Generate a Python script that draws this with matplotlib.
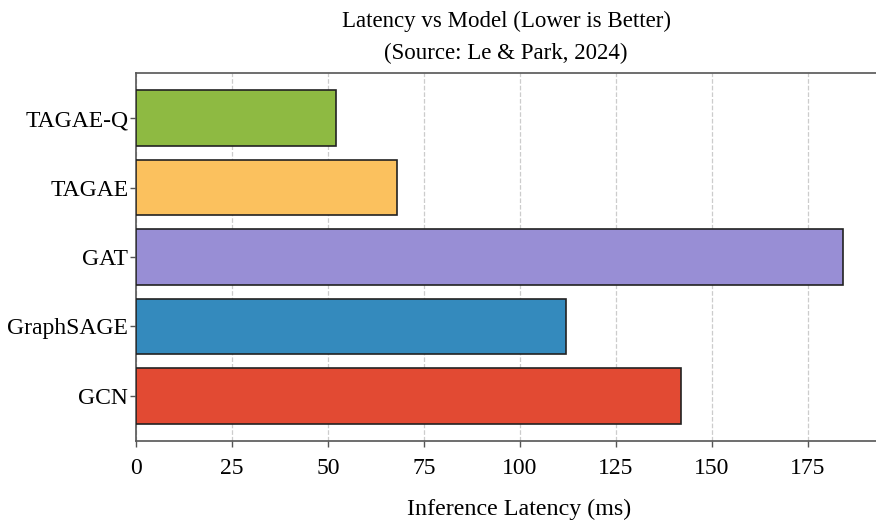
import matplotlib.pyplot as plt

models = ["GCN", "GraphSAGE", "GAT", "TAGAE", "TAGAE-Q"]
latency_ms = [142, 112, 184, 68, 52]
bar_colors = ["#E24A33", "#348ABD", "#988ED5", "#FBC15E", "#8EBA42"]

plt.rcParams["font.family"] = ["Liberation Serif", "DejaVu Serif"]

fig = plt.figure(figsize=(8.76, 5.23), dpi=100)
ax = fig.add_axes([136 / 876, 1 - 441 / 523, 740 / 876, 368 / 523])

ax.barh(models, latency_ms, height=0.8, color=bar_colors,
        edgecolor="#222222", linewidth=1.2, zorder=3)

ax.set_xlim(0, 192.7)
ax.set_ylim(-0.65, 4.65)
ax.set_xticks([0, 25, 50, 75, 100, 125, 150, 175])
ax.grid(axis="x", linestyle="--", color="#cccccc", linewidth=0.9, zorder=0)

for side in ["left", "bottom", "top"]:
    ax.spines[side].set_color("#555555")
    ax.spines[side].set_linewidth(1.2)
ax.spines["right"].set_visible(False)
ax.tick_params(axis="both", labelsize=17, color="#555555", length=4, width=1)
ax.tick_params(axis="x", pad=8)
ax.tick_params(axis="y", pad=1.5)

ax.set_xlabel("Inference Latency (ms)", fontsize=17.3)
ax.xaxis.set_label_coords(0.518, -0.158)
ax.set_title("Latency vs Model (Lower is Better)\n(Source: Le & Park, 2024)",
             fontsize=16.5, pad=10, linespacing=1.7)

fig.savefig("out.png", dpi=100)
